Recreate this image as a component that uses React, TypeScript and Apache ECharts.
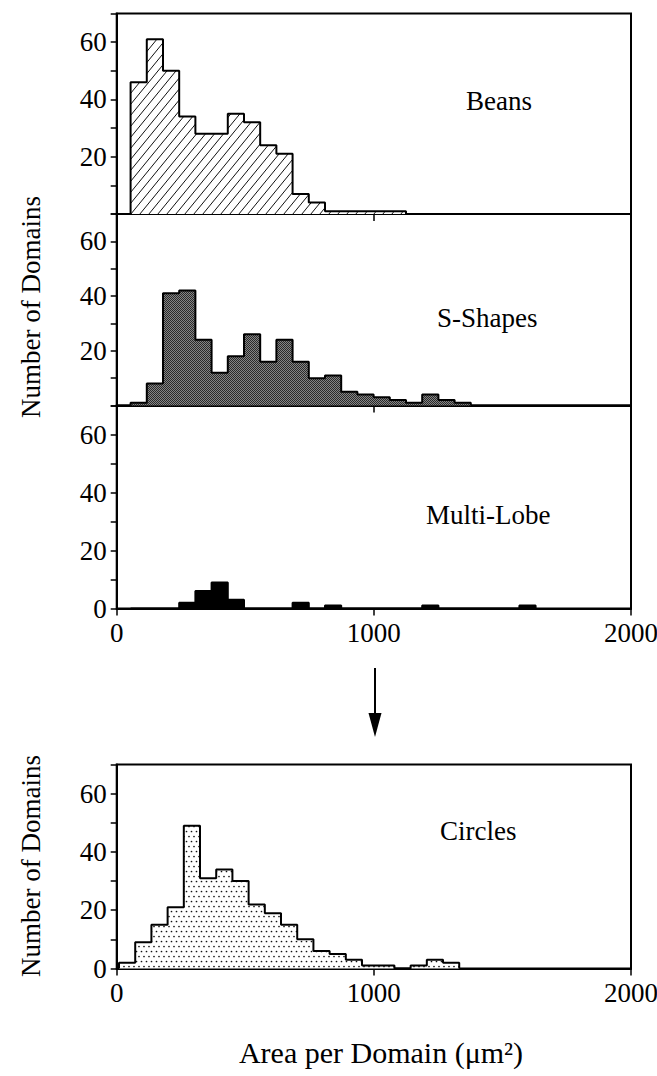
import React, { useEffect, useRef } from "react";
import * as echarts from "echarts";

// ---- data ----
const BIN_WIDTH = 63;
const beansStart = 54;
const beansCounts = [46, 61, 50, 34, 28, 28, 35, 32, 24, 21, 7, 4, 1, 1, 1, 1, 1];
const sShapesStart = 54;
const sShapesCounts = [1, 8, 41, 42, 24, 12, 18, 26, 16, 24, 16, 10, 11, 5, 4, 3, 2, 1, 4, 2, 1];
const multiLobeStart = 54;
const multiLobeCounts = [0, 0, 0, 2, 6, 9, 3, 0, 0, 0, 2, 0, 1, 0, 0, 0, 0, 0, 1, 0, 0, 0, 0, 0, 1];
const circlesStart = 9;
const circlesCounts = [2, 9, 15, 21, 49, 31, 34, 30, 22, 19, 15, 10, 6, 5, 3, 1, 1, 0, 1, 3, 2];
const panelLabels = ["Beans", "S-Shapes", "Multi-Lobe", "Circles"];
const xMin = 0;
const xMax = 2000;
const xInterval = 1000;
const yMin = 0;
const yMax = 70;
const yInterval = 10;
const yLabelTicksUpper = [20, 40, 60];
const yLabelTicksLower = [0, 20, 40, 60];
const yTitle = "Number of Domains";
const xTitle = "Area per Domain (μm²)";

const FONT = "'Liberation Serif', 'Times New Roman', serif";
const FS = 27;

function toSteps(start: number, counts: number[]): number[][] {
  const pts: number[][] = [[start, 0]];
  counts.forEach((c, i) => pts.push([start + i * BIN_WIDTH, c]));
  pts.push([start + counts.length * BIN_WIDTH, 0]);
  return pts;
}

function makeCanvas(w: number, h: number, draw: (ctx: CanvasRenderingContext2D) => void) {
  const c = document.createElement("canvas");
  c.width = w;
  c.height = h;
  const ctx = c.getContext("2d")!;
  draw(ctx);
  return c;
}

function patterns() {
  const hatch = makeCanvas(9, 11, (ctx) => {
    ctx.fillStyle = "#fff";
    ctx.fillRect(0, 0, 9, 11);
    ctx.strokeStyle = "#111";
    ctx.lineWidth = 1;
    for (const dx of [-9, 0, 9]) {
      ctx.beginPath();
      ctx.moveTo(dx, 11);
      ctx.lineTo(dx + 9, 0);
      ctx.stroke();
    }
  });
  const dark = makeCanvas(4, 4, (ctx) => {
    for (let x = 0; x < 4; x++) {
      for (let y = 0; y < 4; y++) {
        ctx.fillStyle = (x + y) % 2 === 0 ? "#2a2a2a" : "#858585";
        ctx.fillRect(x, y, 1, 1);
      }
    }
  });
  const dots = makeCanvas(10, 10, (ctx) => {
    ctx.fillStyle = "#fff";
    ctx.fillRect(0, 0, 10, 10);
    ctx.fillStyle = "#111";
    for (const [x, y] of [[1, 1], [6, 1], [3.5, 6], [8.5, 6]]) {
      ctx.beginPath();
      ctx.arc(x + 0.5, y + 0.5, 0.85, 0, Math.PI * 2);
      ctx.fill();
    }
  });
  return {
    hatch: { image: hatch, repeat: "repeat", imageWidth: 9, imageHeight: 11 },
    dark: { image: dark, repeat: "repeat", imageWidth: 4, imageHeight: 4 },
    dots: { image: dots, repeat: "repeat", imageWidth: 10, imageHeight: 10 },
  };
}

export default function App() {
  const ref = useRef<HTMLDivElement>(null);
  useEffect(() => {
    if (!ref.current) return;
    const chart = echarts.init(ref.current, undefined, { renderer: "svg" });
    const pat = patterns();
    const L = 116.7;
    const W = 514.3;
    const grids = [
      { left: L, top: 13.5, width: W, height: 200.5 },
      { left: L, top: 214, width: W, height: 191.5 },
      { left: L, top: 405.5, width: W, height: 203 },
      { left: L, top: 764.5, width: W, height: 204 },
    ];
    const fills: any[] = [pat.hatch, pat.dark, "#000", pat.dots];
    const seriesData = [
      toSteps(beansStart, beansCounts),
      toSteps(sShapesStart, sShapesCounts),
      toSteps(multiLobeStart, multiLobeCounts),
      toSteps(circlesStart, circlesCounts),
    ];
    const labelPos = [
      { x: 466, y: 101 },
      { x: 437, y: 318 },
      { x: 426, y: 515 },
      { x: 440, y: 831 },
    ];
    const option: any = {
      animation: false,
      grid: grids.map((g) => ({
        ...g,
        show: true,
        borderColor: "#000",
        borderWidth: 2,
        backgroundColor: "transparent",
        containLabel: false,
        outerBoundsMode: "none",
      })),
      xAxis: grids.map((_, i) => ({
        type: "value",
        gridIndex: i,
        min: xMin,
        max: xMax,
        interval: xInterval,
        axisLine: { show: true, lineStyle: { color: "#000", width: 2 } },
        axisTick: { show: true, inside: false, length: 7, lineStyle: { color: "#000", width: 1.5 } },
        axisLabel: {
          show: i >= 2,
          fontSize: FS,
          fontFamily: FONT,
          color: "#000",
          margin: 11,
          formatter: (v: number) => String(v),
        },
        splitLine: { show: false },
      })),
      yAxis: grids.map((_, i) => ({
        type: "value",
        gridIndex: i,
        min: yMin,
        max: yMax,
        interval: yInterval,
        axisLine: { show: true, lineStyle: { color: "#000", width: 2 } },
        axisTick: { show: true, inside: false, length: 6, lineStyle: { color: "#000", width: 1.5 } },
        axisLabel: {
          fontSize: FS,
          fontFamily: FONT,
          color: "#000",
          margin: 10,
          showMinLabel: true,
          showMaxLabel: true,
          formatter: (v: number) =>
            (i >= 2 ? yLabelTicksLower : yLabelTicksUpper).includes(v) ? String(v) : "",
        },
        splitLine: { show: false },
      })),
      series: seriesData.map((d, i) => ({
        type: "line",
        xAxisIndex: i,
        yAxisIndex: i,
        step: "end",
        data: d,
        showSymbol: false,
        symbol: "none",
        lineStyle: { color: "#000", width: 2 },
        areaStyle: { color: fills[i], opacity: 1 },
        z: 3,
      })),
      graphic: [
        ...panelLabels.map((t, i) => ({
          type: "text",
          x: labelPos[i].x,
          y: labelPos[i].y,
          style: {
            text: t,
            font: `${FS}px ${FONT}`,
            fill: "#000",
            textAlign: "left",
            textVerticalAlign: "middle",
          },
        })),
        {
          type: "text",
          x: 31,
          y: 307,
          rotation: Math.PI / 2,
          style: {
            text: yTitle,
            font: `${FS}px ${FONT}`,
            fill: "#000",
            textAlign: "center",
            textVerticalAlign: "middle",
          },
        },
        {
          type: "text",
          x: 31,
          y: 866,
          rotation: Math.PI / 2,
          style: {
            text: yTitle,
            font: `${FS}px ${FONT}`,
            fill: "#000",
            textAlign: "center",
            textVerticalAlign: "middle",
          },
        },
        {
          type: "text",
          x: 381,
          y: 1052,
          style: {
            text: xTitle,
            font: `30px ${FONT}`,
            fill: "#000",
            textAlign: "center",
            textVerticalAlign: "middle",
          },
        },
        {
          type: "line",
          shape: { x1: 375, y1: 668, x2: 375, y2: 716 },
          style: { stroke: "#000", lineWidth: 2 },
        },
        {
          type: "polygon",
          shape: { points: [[368.5, 713], [381.5, 713], [375, 737]] },
          style: { fill: "#000" },
        },
      ],
    };
    chart.setOption(option);
    return () => chart.dispose();
  }, []);
  return (
    <div
      ref={ref}
      style={{ position: "absolute", left: 0, top: 0, width: 657, height: 1076 }}
    />
  );
}
